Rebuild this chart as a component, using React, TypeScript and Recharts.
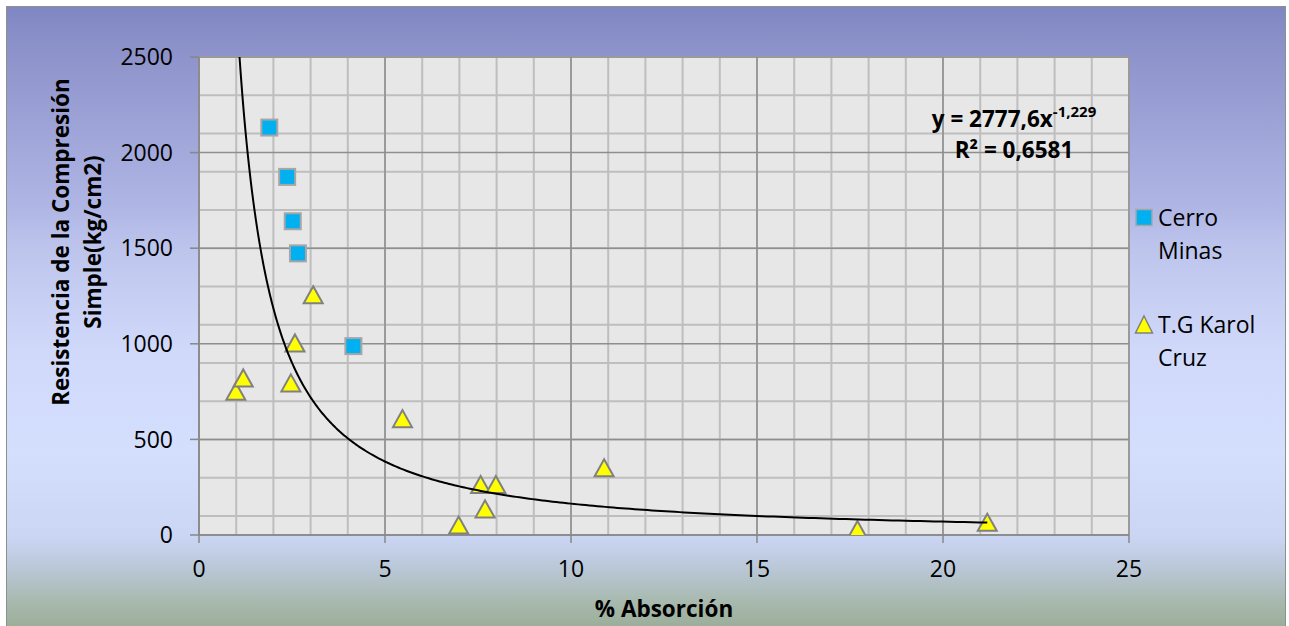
import React from 'react';
import {
  ComposedChart,
  Scatter,
  Line,
  XAxis,
  YAxis,
  CartesianGrid,
  Legend,
} from 'recharts';

// ---- data ----
const cerroX = [1.89, 2.37, 2.52, 2.66, 4.15];
const cerroY = [2131, 1873, 1641, 1473, 988];

const karolX = [0.99, 1.19, 2.47, 2.58, 3.07, 5.47, 6.98, 7.57, 7.69, 7.98, 10.89, 17.7, 21.19];
const karolY = [749, 819, 793, 1002, 1254, 606, 50, 261, 134, 261, 349, 26, 64];

const xTicks = [0, 5, 10, 15, 20, 25];
const yTicks = [0, 500, 1000, 1500, 2000, 2500];
const xMinor = [0, 1, 2, 3, 4, 5, 6, 7, 8, 9, 10, 11, 12, 13, 14, 15, 16, 17, 18, 19, 20, 21, 22, 23, 24, 25];
const yMinor = [0, 100, 200, 300, 400, 500, 600, 700, 800, 900, 1000, 1100, 1200, 1300, 1400, 1500, 1600, 1700, 1800, 1900, 2000, 2100, 2200, 2300, 2400, 2500];

const seriesNames = ['Cerro Minas', 'T.G Karol Cruz'];

// Power trendline shown on the chart: y = 2777,6 x^-1,229
const TREND_A = 2777.6;
const TREND_B = -1.229;
const Y_MAX = 2500;

const cerroData = cerroX.map((x, i) => ({ x, y: cerroY[i] }));
const karolData = karolX.map((x, i) => ({ x, y: karolY[i] }));

const trendStart = Math.pow(Y_MAX / TREND_A, 1 / TREND_B);
const trendEnd = Math.max(...karolX);
const trendData: { x: number; y: number }[] = [];
{
  const n = 300;
  const l0 = Math.log(trendStart);
  const l1 = Math.log(trendEnd);
  for (let i = 0; i <= n; i++) {
    const x = Math.exp(l0 + ((l1 - l0) * i) / n);
    trendData.push({ x, y: TREND_A * Math.pow(x, TREND_B) });
  }
}

const FONT = "'Open Sans', sans-serif";

const SquareShape = (props: any) => {
  const { cx, cy } = props;
  if (cx == null || cy == null) return null;
  return (
    <rect x={cx - 8} y={cy - 8} width={16} height={16} fill="#00B0F0" stroke="#A6A6A6" strokeWidth={2} />
  );
};

const TriangleShape = (props: any) => {
  const { cx, cy } = props;
  if (cx == null || cy == null) return null;
  return (
    <polygon
      points={`${cx},${cy - 9} ${cx + 9.5},${cy + 8} ${cx - 9.5},${cy + 8}`}
      fill="#FFFF00"
      stroke="#808080"
      strokeWidth={2}
      strokeLinejoin="miter"
    />
  );
};

const LegendContent = (props: any) => {
  const payload = (props.payload || []).filter((p: any) => p.type !== 'none');
  return (
    <div style={{ fontFamily: FONT, fontSize: 23, lineHeight: '33px', color: '#000' }}>
      {payload.map((entry: any, i: number) => (
        <div key={i} style={{ display: 'flex', alignItems: 'flex-start', marginBottom: 41 }}>
          <svg width={20} height={33} style={{ flex: 'none', marginRight: 4 }}>
            {entry.value === seriesNames[0] ? (
              <rect x={2} y={8.5} width={16} height={16} fill="#00B0F0" stroke="#A6A6A6" strokeWidth={1.5} />
            ) : (
              <polygon points="10,8 18.5,25 1.5,25" fill="#FFFF00" stroke="#808080" strokeWidth={1.5} />
            )}
          </svg>
          <div style={{ width: 110 }}>{entry.value}</div>
        </div>
      ))}
    </div>
  );
};

const YTitle = () => (
  <g>
    <text
      transform="translate(69,242) rotate(-90)"
      textAnchor="middle"
      fontFamily={FONT}
      fontWeight="bold"
      fontSize={22.5}
      fill="#000"
    >
      Resistencia de la Compresión
    </text>
    <text
      transform="translate(101,242) rotate(-90)"
      textAnchor="middle"
      fontFamily={FONT}
      fontWeight="bold"
      fontSize={22.5}
      fill="#000"
    >
      Simple(kg/cm2)
    </text>
  </g>
);

const XTitle = () => (
  <text x={664} y={617} textAnchor="middle" fontFamily={FONT} fontWeight="bold" fontSize={22.5} fill="#000">
    % Absorción
  </text>
);

export default function App() {
  return (
    <div style={{ position: 'absolute', left: 0, top: 0, width: 1289, height: 626, overflow: 'hidden', background: '#fff' }}>
      <div
        style={{
          position: 'absolute',
          left: 6,
          top: 6,
          width: 1280,
          height: 640,
          boxSizing: 'border-box',
          border: '1.5px solid #8f8f8f',
          background:
            'linear-gradient(to bottom, #7F87C3 0px, #8D93CA 44px, #AEB4E3 194px, #BEC5ED 244px, #D0D9FA 344px, #D4DEFD 444px, #CBD6F5 529px, #B8C6D4 564px, #A8B9AF 594px, #9BAE99 620px)',
        }}
      />
      <div style={{ position: 'absolute', left: 0, top: 0 }}>
        <ComposedChart width={1289} height={626} margin={{ top: 57, right: 160, bottom: 0, left: 0 }}>
          <CartesianGrid
            fill="#E7E7E7"
            stroke="#BEBEBE"
            strokeWidth={2}
            verticalValues={xMinor}
            horizontalValues={yMinor}
          />
          <CartesianGrid stroke="#8E8E8E" strokeWidth={1.5} verticalValues={xTicks} horizontalValues={yTicks} />
          <XAxis
            dataKey="x"
            type="number"
            domain={[0, 25]}
            ticks={xTicks}
            allowDataOverflow
            height={91}
            tickSize={8}
            tickMargin={18}
            axisLine={{ stroke: '#878787', strokeWidth: 1.5 }}
            tickLine={{ stroke: '#878787', strokeWidth: 1.5 }}
            tick={{ fill: '#000', fontFamily: FONT, fontSize: 23 }}
            label={{ content: () => <XTitle /> }}
          />
          <YAxis
            dataKey="y"
            type="number"
            domain={[0, 2500]}
            ticks={yTicks}
            allowDataOverflow
            width={199}
            tickSize={9}
            tickMargin={17}
            axisLine={{ stroke: '#878787', strokeWidth: 1.5 }}
            tickLine={{ stroke: '#878787', strokeWidth: 1.5 }}
            tick={{ fill: '#000', fontFamily: FONT, fontSize: 23 }}
            label={{ content: () => <YTitle /> }}
          />
          <Legend
            layout="vertical"
            align="center"
            verticalAlign="middle"
            content={<LegendContent />}
            wrapperStyle={{ position: 'absolute', left: 1134, top: 201, width: 150 }}
          />
          <Scatter
            name={seriesNames[0]}
            data={cerroData}
            shape={<SquareShape />}
            legendType="square"
            isAnimationActive={false}
          />
          <Scatter
            name={seriesNames[1]}
            data={karolData}
            shape={<TriangleShape />}
            legendType="triangle"
            isAnimationActive={false}
          />
          <Line
            data={trendData}
            dataKey="y"
            type="linear"
            stroke="#000"
            strokeWidth={2}
            dot={false}
            activeDot={false}
            legendType="none"
            isAnimationActive={false}
            zIndex={700}
          />
        </ComposedChart>
      </div>
      <svg
        width={1289}
        height={626}
        style={{ position: 'absolute', left: 0, top: 0, pointerEvents: 'none' }}
      >
        <text x={1014} y={127} textAnchor="middle" fontFamily={FONT} fontWeight="bold" fontSize={22.5} fill="#000">
          y = 2777,6x
          <tspan dy={-10} fontSize={15}>
            -1,229
          </tspan>
        </text>
        <text x={1014} y={158} textAnchor="middle" fontFamily={FONT} fontWeight="bold" fontSize={22.5} fill="#000">
          R² = 0,6581
        </text>
      </svg>
    </div>
  );
}
